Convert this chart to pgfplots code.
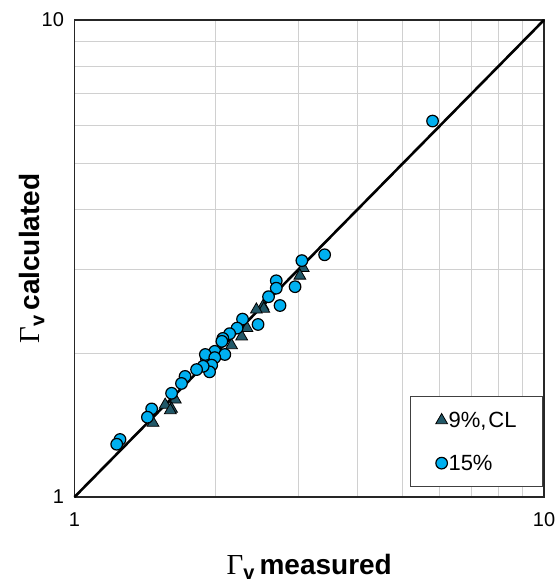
\documentclass[border=0pt]{standalone}
\usepackage{pgfplots}
\pgfplotsset{compat=1.18}
\usepackage{fontspec}
\setmainfont{Liberation Sans}
\newfontfamily\seriffont{Liberation Serif}
\definecolor{tri}{HTML}{215868}
\definecolor{cir}{HTML}{00B0F0}
\definecolor{gridc}{HTML}{D0D0D0}
\newcommand{\gv}{{\fontsize{29}{29}\selectfont\seriffont Γ}\raisebox{-5pt}{\fontsize{20}{20}\selectfont\bfseries v}\hspace{5pt}}
\begin{document}
\begin{tikzpicture}
\begin{axis}[
  name=ax,
  scale only axis,
  width=469.5pt, height=477pt,
  xmode=log, ymode=log,
  xmin=1, xmax=10, ymin=1, ymax=10,
  xtick={1,10}, ytick={1,10},
  xticklabels={1,10}, yticklabels={1,10},
  minor xtick={2,3,4,5,6,7,8,9},
  minor ytick={2,3,4,5,6,7,8,9},
  grid=both,
  major grid style={gridc, line width=1pt},
  minor grid style={gridc, line width=1pt},
  major tick length=0pt, minor tick length=0pt,
  axis line style={black!85, line width=1.3pt},
  tick label style={font=\fontsize{20}{22}\selectfont},
  xticklabel style={yshift=-12pt},
  yticklabel style={xshift=-7pt},
  xlabel={\gv\fontsize{28}{30}\selectfont\bfseries measured},
  ylabel={\gv\fontsize{28}{30}\selectfont\bfseries calculated},
  xlabel style={at={(axis description cs:0.5,-0.1635)}, anchor=base},
  ylabel style={at={(axis description cs:-0.075,0.5)}, anchor=base},
  legend style={at={(0.9979,0.021)}, anchor=south east, draw=black!75, line width=0.9pt,
    font=\fontsize{22}{24}\selectfont, inner xsep=25pt, inner ysep=14pt, row sep=24pt,
    nodes={inner sep=1pt},
    /tikz/every even column/.append style={column sep=2pt}},
  legend image code/.code={\draw plot coordinates {(0pt,0pt)};},
  legend cell align=left,
  clip=false,
]
\addplot[black, line width=2.6pt, forget plot] coordinates {(1,1) (10,10)};
\addplot[only marks, mark=triangle*, mark size=6.8pt, mark options={fill=tri, draw=black, line width=0.8pt}] coordinates {
(3.07,3.02) (3.02,2.91) (2.52,2.51) (2.53,2.48) (2.44,2.47) (2.33,2.26) (2.27,2.17)
(2.16,2.08) (1.90,1.93) (1.64,1.60) (1.61,1.53) (1.56,1.56) (1.60,1.52) (1.47,1.43)
};
\addlegendentry{9\%,\hspace{2pt}CL}
\addplot[only marks, mark=*, mark size=5.8pt, mark options={fill=cir, draw=black, line width=1.2pt}] coordinates {
(5.79,6.14) (3.41,3.22) (3.05,3.13) (2.95,2.76) (2.69,2.84) (2.69,2.74) (2.59,2.63)
(2.74,2.52) (2.28,2.36) (2.46,2.30) (2.22,2.26) (2.14,2.20) (2.07,2.15) (2.06,2.12)
(1.99,2.02) (2.09,1.99) (1.91,1.95) (1.90,1.99) (1.99,1.96) (1.96,1.89) (1.94,1.83)
(1.88,1.88) (1.82,1.85) (1.72,1.79) (1.69,1.73) (1.61,1.65) (1.46,1.53) (1.43,1.47)
(1.25,1.32) (1.23,1.29)
};
\addlegendentry{15\%}
\end{axis}
\pgfresetboundingbox
\path[use as bounding box] ([xshift=-74.5pt,yshift=-89pt]ax.south west) rectangle ([xshift=12pt,yshift=20pt]ax.north east);
\end{tikzpicture}
\end{document}
